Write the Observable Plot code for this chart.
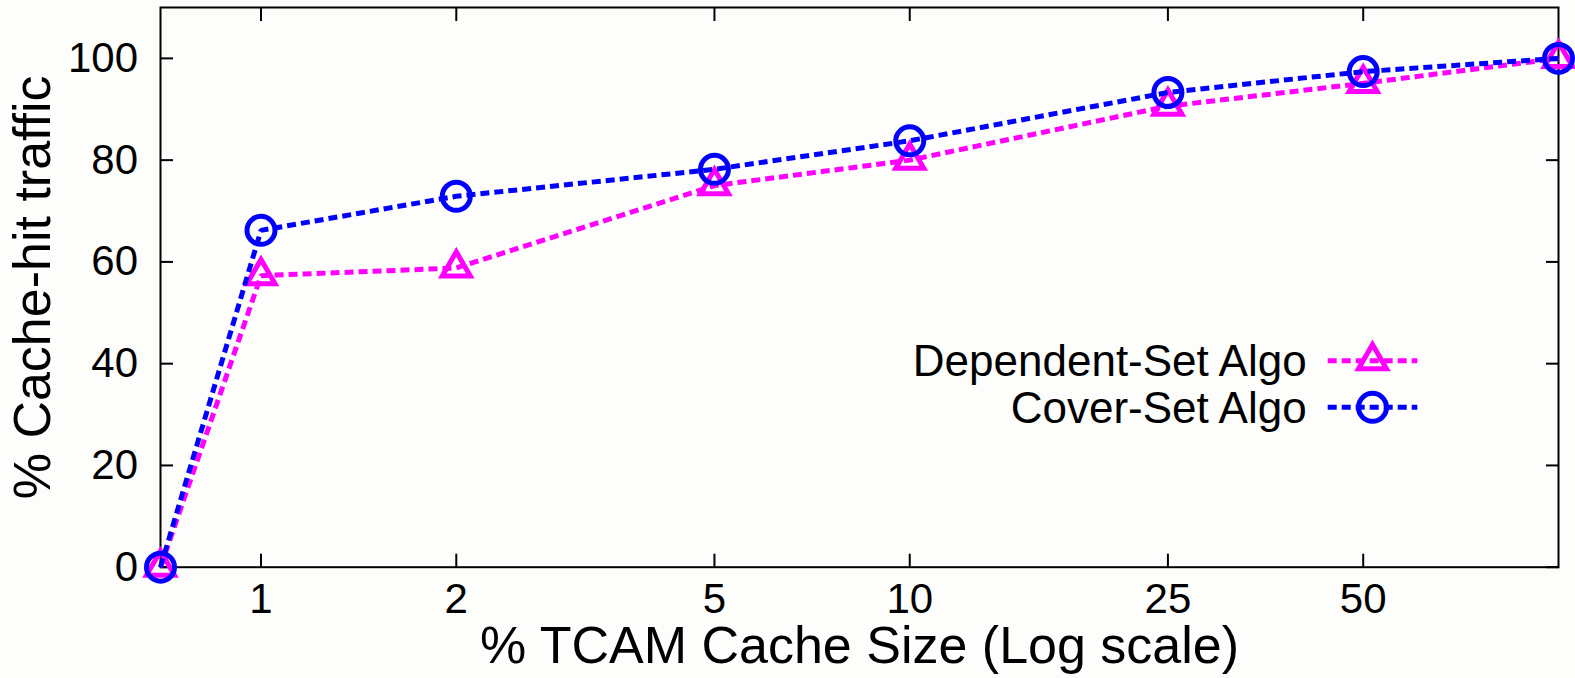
<!DOCTYPE html>
<html>
<head>
<meta charset="utf-8">
<script src="https://cdn.jsdelivr.net/npm/d3@7"></script>
<script src="https://cdn.jsdelivr.net/npm/@observablehq/plot@0.6"></script>
<style>
  html, body { margin: 0; padding: 0; background: #fdfdfb; }
  #chart { position: relative; width: 1575px; height: 678px; }
  #legend { position: absolute; left: 0; top: 0; pointer-events: none; }
</style>
</head>
<body>
<div id="chart"></div>
<script>
// ---- data ----
const cacheSize = [0.7, 1, 2, 5, 10, 25, 50, 100];
const dependentSet = [0, 57.3, 58.8, 75, 80, 90.6, 95.1, 100];
const coverSet = [0, 66.2, 72.9, 78.2, 83.8, 93.3, 97.4, 100];
const seriesNames = ["Dependent-Set Algo", "Cover-Set Algo"];
const seriesColors = ["#ff00ff", "#0000ff"];
const seriesSymbols = ["triangle", "circle"];
const xTicks = [1, 2, 5, 10, 25, 50];
const yTicks = [0, 20, 40, 60, 80, 100];
const xLabel = "% TCAM Cache Size (Log scale)";
const yLabel = "% Cache-hit traffic";

const rows = cacheSize.map((s, i) => ({size: s, dep: dependentSet[i], cov: coverSet[i]}));

const W = 1575, H = 678;
const font = "'Liberation Sans', Arial, Helvetica, sans-serif";
const dash = "9,5";
const lw = 5;

const tickOnly = {label: null, strokeWidth: 2, fill: "none", tickFormat: () => ""};

const plot = Plot.plot({
  width: W,
  height: H,
  marginLeft: 160,
  marginRight: 17,
  marginTop: 7,
  marginBottom: 111.3,
  style: {fontFamily: font, fontSize: "42px", background: "transparent", color: "black", overflow: "visible"},
  x: {type: "log", domain: [0.7, 100], axis: null},
  y: {domain: [0, 110], axis: null},
  marks: [
    // inward ticks on all four sides
    Plot.axisY(yTicks, {anchor: "left", tickSize: 13, dx: 13, ...tickOnly}),
    Plot.axisY(yTicks, {anchor: "right", tickSize: 13, dx: -13, ...tickOnly}),
    Plot.axisX(xTicks, {anchor: "bottom", tickSize: 13, dy: -13, ...tickOnly}),
    Plot.axisX(xTicks, {anchor: "top", tickSize: 13, dy: 13, ...tickOnly}),
    // tick labels
    Plot.axisY(yTicks, {anchor: "left", tickSize: 0, tickPadding: 22.5, tickFormat: d => String(d), label: null, fontSize: 42}),
    Plot.axisX(xTicks, {anchor: "bottom", tickSize: 0, tickPadding: 16, tickFormat: d => String(d), label: null, fontSize: 42}),
    Plot.frame({stroke: "black", strokeWidth: 2}),
    // axis titles
    Plot.text([xLabel], {text: d => d, frameAnchor: "bottom", dy: 96, lineAnchor: "bottom", textAnchor: "middle", fontSize: 52}),
    Plot.text([yLabel], {text: d => d, frameAnchor: "left", dx: -110.5, rotate: -90, lineAnchor: "bottom", textAnchor: "middle", fontSize: 52}),
    // series
    Plot.line(rows, {x: "size", y: "dep", stroke: seriesColors[0], strokeWidth: lw, strokeDasharray: dash, strokeLinecap: "butt", strokeLinejoin: "miter"}),
    Plot.dot(rows, {x: "size", y: "dep", symbol: seriesSymbols[0], r: 10.4, stroke: seriesColors[0], strokeWidth: lw, fill: "none"}),
    Plot.line(rows, {x: "size", y: "cov", stroke: seriesColors[1], strokeWidth: lw, strokeDasharray: dash, strokeLinecap: "butt", strokeLinejoin: "miter"}),
    Plot.dot(rows, {x: "size", y: "cov", symbol: seriesSymbols[1], r: 14, stroke: seriesColors[1], strokeWidth: lw, fill: "none"})
  ]
});

// drop any empty tick texts left by the tick-only axes
plot.querySelectorAll("text").forEach(t => { if (t.textContent.trim() === "") t.remove(); });

const chart = document.getElementById("chart");
chart.appendChild(plot);

// ---- legend (overlay) ----
const legend = d3.select(chart).append("svg")
  .attr("id", "legend")
  .attr("width", W).attr("height", H)
  .style("overflow", "visible");
const legendTextRight = 1306.7, lineX1 = 1327.7, lineX2 = 1417.3, rowY0 = 360.7, rowStep = 46.6;
const symbolSizes = [Math.PI * 10.4 * 10.4, Math.PI * 14 * 14];
seriesNames.forEach((name, i) => {
  const y = rowY0 + i * rowStep;
  const g = legend.append("g");
  g.append("text")
    .attr("x", legendTextRight).attr("y", y).attr("dy", "0.35em")
    .attr("text-anchor", "end")
    .style("font-family", font).style("font-size", "44px").attr("fill", "black")
    .text(name);
  g.append("line")
    .attr("x1", lineX1).attr("x2", lineX2).attr("y1", y).attr("y2", y)
    .attr("stroke", seriesColors[i]).attr("stroke-width", lw).attr("stroke-dasharray", dash);
  const sym = seriesSymbols[i] === "triangle" ? d3.symbolTriangle : d3.symbolCircle;
  g.append("path")
    .attr("d", d3.symbol(sym, symbolSizes[i])())
    .attr("transform", `translate(${(lineX1 + lineX2) / 2},${y})`)
    .attr("fill", "none").attr("stroke", seriesColors[i]).attr("stroke-width", lw);
});
</script>
</body>
</html>
